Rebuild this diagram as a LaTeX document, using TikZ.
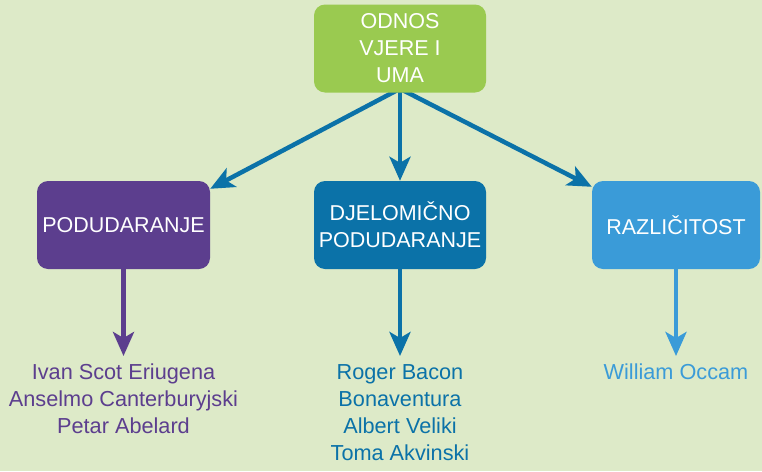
\documentclass[tikz,border=0pt]{standalone}
\usepackage{fontspec}
\setmainfont{Liberation Sans}
\usetikzlibrary{arrows.meta}
\pgfdeclarelayer{bg}
\pgfdeclarelayer{back}
\pgfsetlayers{back,bg,main}
\definecolor{bgc}{HTML}{DDEAC8}
\definecolor{gre}{HTML}{9ACA50}
\definecolor{pur}{HTML}{5C3E8E}
\definecolor{dbl}{HTML}{0B72A8}
\definecolor{lbl}{HTML}{3A9BD8}
\tikzset{
  box/.style={rounded corners=11pt, minimum width=172pt, minimum height=88pt,
    text=white, align=center, inner sep=0pt,
    font=\fontsize{21.5pt}{27pt}\selectfont},
  names/.style={align=center, anchor=north, inner sep=0pt,
    font=\fontsize{21.7pt}{27pt}\selectfont},
  arr/.style={line width=4.5pt, -{Stealth[length=24pt,width=21pt,inset=6pt]}}
}
\begin{document}
\begin{tikzpicture}[x=1pt,y=-1pt]
\begin{pgfonlayer}{back}
\fill[bgc] (0,0) rectangle (762,471);
\end{pgfonlayer}
\useasboundingbox (0,0) rectangle (762,471);
\node[box, fill=gre] (top) at (400,48.5) {ODNOS\\VJERE I\\UMA};
\node[box, fill=pur, minimum width=173pt] (pod) at (123.5,225) {PODUDARANJE};
\node[box, fill=dbl] (dje) at (400,225) {DJELOMIČNO\\PODUDARANJE};
\node[box, fill=lbl, minimum width=168pt] (raz) at (676,225) {RAZLIČITOST};
\node[names, text=pur] (n1) at (123.5,364) {Ivan Scot Eriugena\\Anselmo Canterburyjski\\Petar Abelard};
\node[names, text=dbl] (n2) at (400,364) {Roger Bacon\\Bonaventura\\Albert Veliki\\Toma Akvinski};
\node[names, text=lbl] (n3) at (676,364) {William Occam};
\begin{pgfonlayer}{bg}
\draw[arr, dbl] ([yshift=4pt]top.south) -- ([yshift=-8pt]pod.north east);
\draw[arr, dbl] ([yshift=4pt]top.south) -- (dje.north);
\draw[arr, dbl] ([yshift=4pt]top.south) -- ([yshift=-6pt]raz.north west);
\end{pgfonlayer}
\draw[arr, pur] (pod.south) -- ([yshift=8pt]n1.north);
\draw[arr, dbl] (dje.south) -- ([yshift=8pt]n2.north);
\draw[arr, lbl] (raz.south) -- ([yshift=8pt]n3.north);
\end{tikzpicture}
\end{document}
